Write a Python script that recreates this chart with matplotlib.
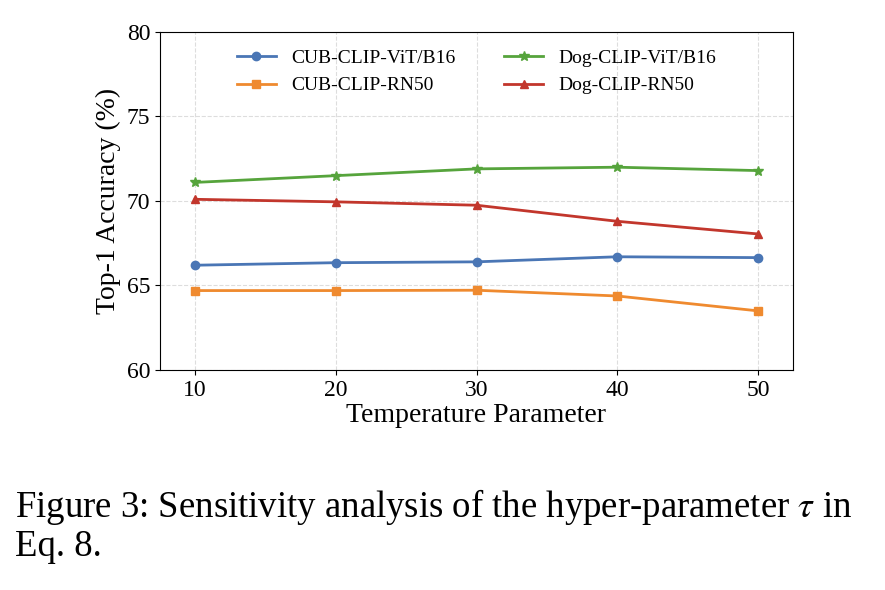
import matplotlib
matplotlib.use("Agg")
import matplotlib.pyplot as plt

plt.rcParams['font.family'] = ['Liberation Serif', 'DejaVu Serif']
plt.rcParams['mathtext.fontset'] = 'stix'

temps = [10, 20, 30, 40, 50]
cub_vit = [66.2, 66.35, 66.4, 66.7, 66.65]
cub_rn = [64.7, 64.7, 64.72, 64.38, 63.5]
dog_vit = [71.1, 71.5, 71.9, 72.0, 71.8]
dog_rn = [70.1, 69.95, 69.75, 68.8, 68.05]

fig = plt.figure(figsize=(8.85, 5.9), dpi=100)
ax = fig.add_axes([160/885, 1-370/590, (793-160)/885, (370-32)/590])
ax.plot(temps, cub_vit, color='#4a76b5', marker='o', lw=2, ms=6, label='CUB-CLIP-ViT/B16')
ax.plot(temps, cub_rn, color='#ef8a2f', marker='s', lw=2, ms=6, label='CUB-CLIP-RN50')
ax.plot(temps, dog_vit, color='#56a43c', marker='*', lw=2, ms=7, label='Dog-CLIP-ViT/B16')
ax.plot(temps, dog_rn, color='#c2362c', marker='^', lw=2, ms=6, label='Dog-CLIP-RN50')
ax.set_ylim(60, 80)
ax.set_xlim(7.5, 52.5)
ax.set_xticks(temps)
ax.set_yticks([60, 65, 70, 75, 80])
ax.tick_params(labelsize=17)
ax.grid(True, ls='--', color='#dddddd', lw=0.8)
ax.set_xlabel('Temperature Parameter', fontsize=20, labelpad=2)
ax.set_ylabel('Top-1 Accuracy (%)', fontsize=20)
ax.legend(ncol=2, loc='upper center', fontsize=14, frameon=False, columnspacing=2.5)
fig.text(15/885, 1-507/590, r'Figure 3: Sensitivity analysis of the hyper-parameter $\tau$ in',
         fontsize=26.5, va='center')
fig.text(15/885, 1-547/590, 'Eq. 8.', fontsize=26.5, va='center')
fig.savefig('out.png', dpi=100)
